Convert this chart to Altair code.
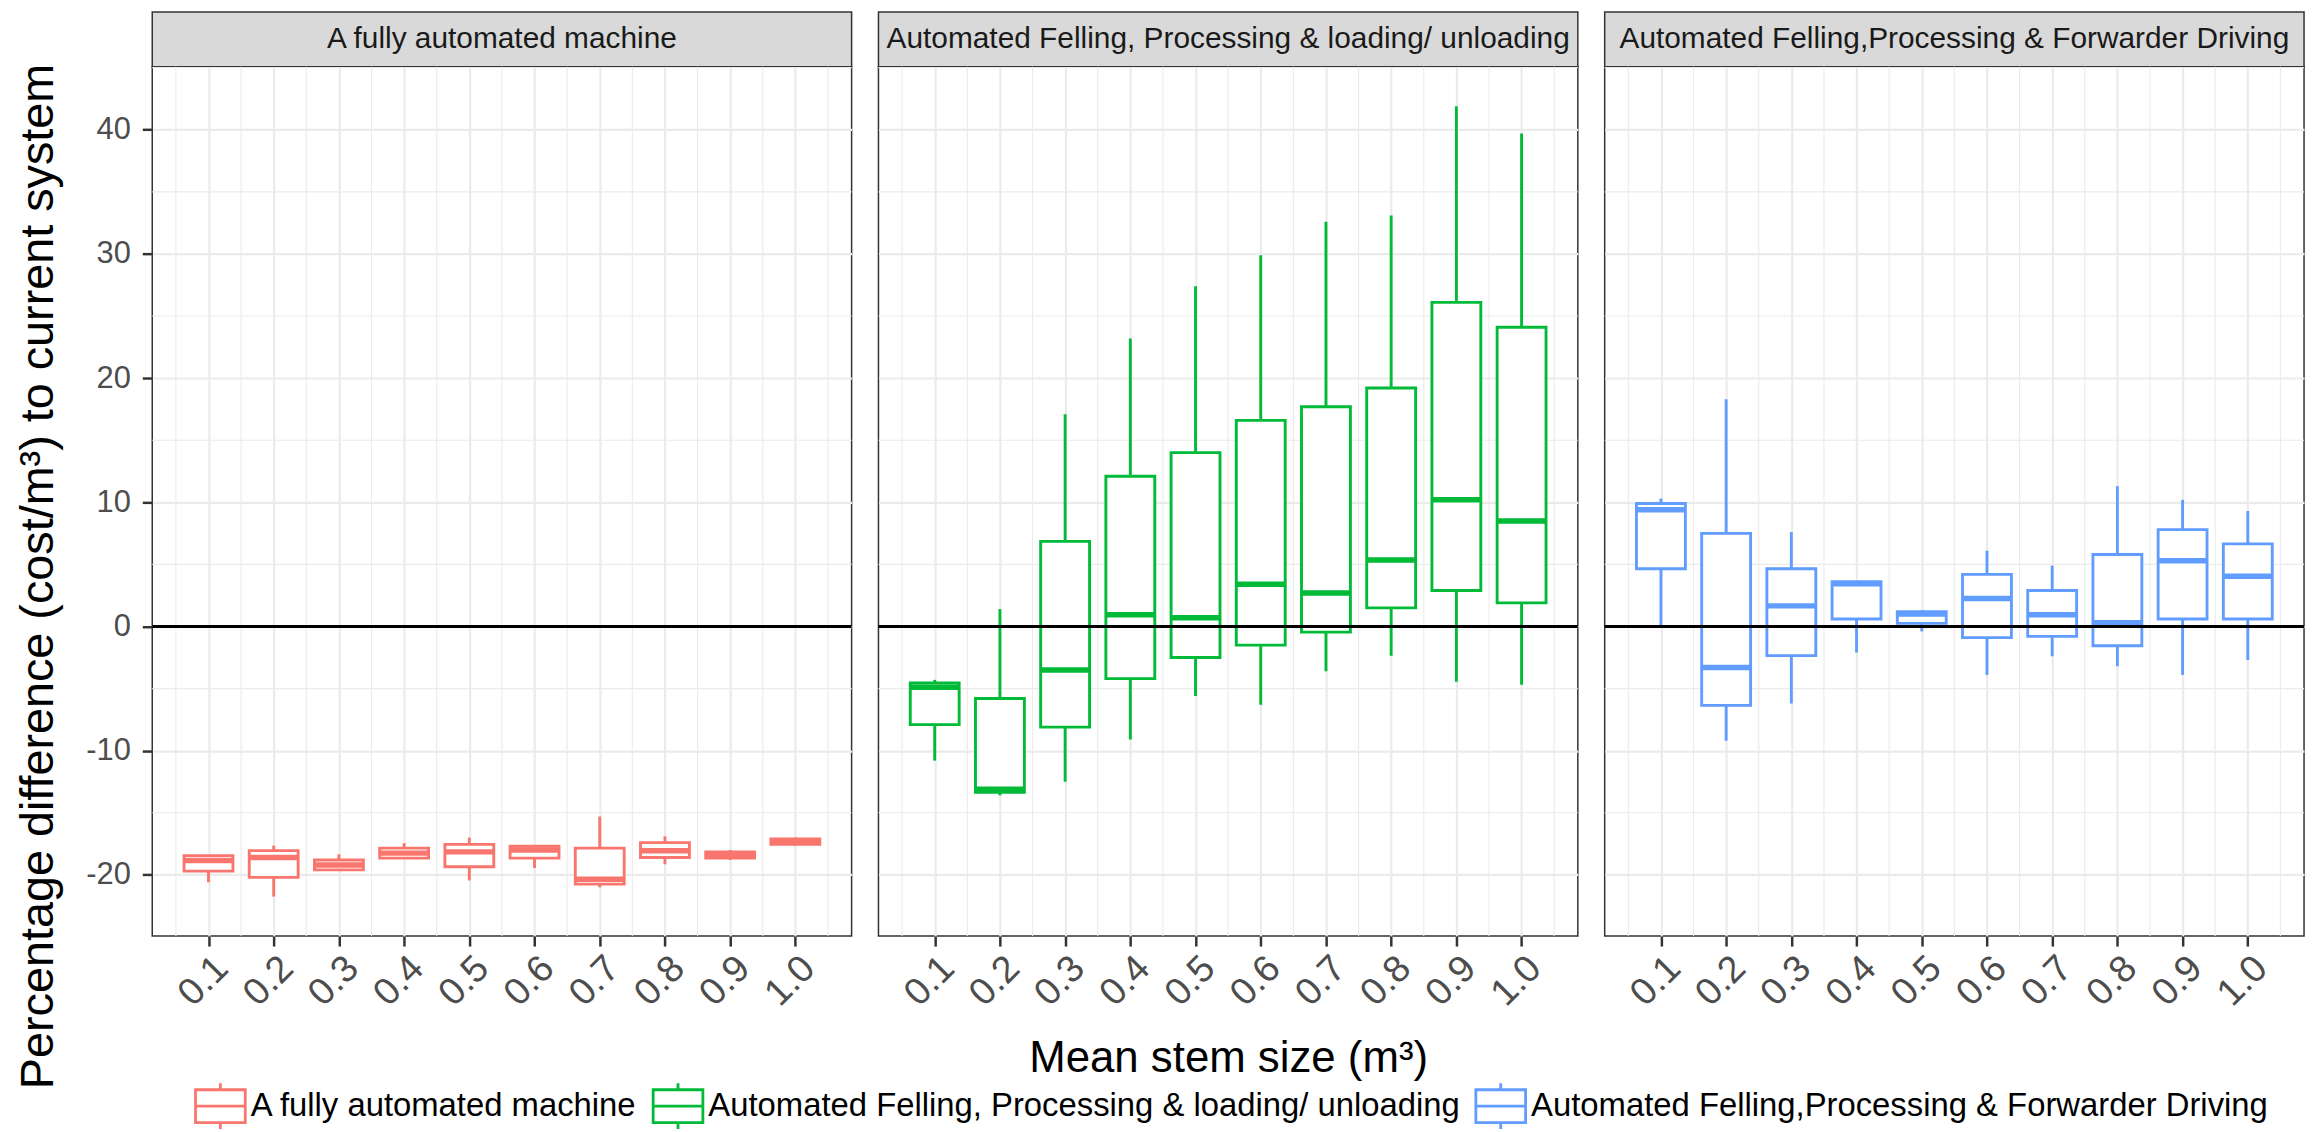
import altair as alt
import pandas as pd

# ---------------- data ----------------
stem_sizes = [0.1, 0.2, 0.3, 0.4, 0.5, 0.6, 0.7, 0.8, 0.9, 1.0]
systems = [
    "A fully automated machine",
    "Automated Felling, Processing & loading/ unloading",
    "Automated Felling,Processing & Forwarder Driving",
]
system_colors = ["#F8766D", "#00BA38", "#619CFF"]

# A fully automated machine
full_low = [-20.6, -21.75, -19.6, -18.65, -20.45, -19.45, -21.0, -19.15, -18.8, -17.65]
full_q1 = [-19.7, -20.2, -19.6, -18.65, -19.35, -18.65, -20.75, -18.6, -18.65, -17.55]
full_med = [-18.85, -18.6, -19.2, -18.25, -18.15, -18.0, -20.35, -18.05, -18.35, -17.3]
full_q3 = [-18.45, -18.05, -18.8, -17.85, -17.55, -17.7, -17.85, -17.4, -18.15, -17.1]
full_high = [-18.45, -17.65, -18.35, -17.45, -17.0, -17.65, -15.3, -16.9, -18.0, -17.0]

# Automated Felling, Processing & loading/ unloading
load_low = [-10.8, -13.6, -12.5, -9.1, -5.6, -6.3, -3.6, -2.35, -4.45, -4.7]
load_q1 = [-7.9, -13.35, -8.1, -4.2, -2.5, -1.5, -0.45, 1.5, 2.9, 1.9]
load_med = [-4.9, -13.1, -3.5, 0.95, 0.7, 3.4, 2.7, 5.35, 10.2, 8.5]
load_q3 = [-4.55, -5.8, 6.85, 12.1, 14.0, 16.6, 17.7, 19.2, 26.1, 24.1]
load_high = [-4.3, 1.4, 17.1, 23.2, 27.4, 29.9, 32.6, 33.1, 41.9, 39.7]

# Automated Felling,Processing & Forwarder Driving
fwd_low = [0.1, -9.2, -6.2, -2.1, -0.4, -3.9, -2.4, -3.2, -3.9, -2.7]
fwd_q1 = [4.65, -6.35, -2.35, 0.6, 0.25, -0.9, -0.8, -1.55, 0.6, 0.6]
fwd_med = [9.4, -3.3, 1.66, 3.45, 1.0, 2.25, 0.95, 0.3, 5.3, 4.05]
fwd_q3 = [9.9, 7.5, 4.65, 3.6, 1.2, 4.2, 2.9, 5.8, 7.8, 6.65]
fwd_high = [10.3, 18.3, 7.6, 3.6, 1.3, 6.1, 4.9, 11.3, 10.2, 9.3]

y_major = [-20, -10, 0, 10, 20, 30, 40]
y_minor = [-15, -5, 5, 15, 25, 35, 45]
x_minor = [0.05, 0.15, 0.25, 0.35, 0.45, 0.55, 0.65, 0.75, 0.85, 0.95, 1.05]
reference_line = [0]

x_title = "Mean stem size (m³)"
y_title = "Percentage difference (cost/m³) to current system"

# ---------------- table ----------------
series = [
    (full_low, full_q1, full_med, full_q3, full_high),
    (load_low, load_q1, load_med, load_q3, load_high),
    (fwd_low, fwd_q1, fwd_med, fwd_q3, fwd_high),
]
rows = []
for name, (lo, q1, md, q3, hi) in zip(systems, series):
    for s, a, b, c, d, e in zip(stem_sizes, lo, q1, md, q3, hi):
        rows.append(dict(system=name, stem=s, lo=a, q1=b, med=c, q3=d, hi=e))
df = pd.DataFrame(rows)

# ggplot-like domains (5% expansion)
half_box = 0.0375
x_lo, x_hi = min(stem_sizes) - half_box, max(stem_sizes) + half_box
x_pad = 0.05 * (x_hi - x_lo)
xdom = [x_lo - x_pad, x_hi + x_pad]
y_lo, y_hi = df["lo"].min(), df["hi"].max()
y_pad = 0.05 * (y_hi - y_lo)
ydom = [float(y_lo - y_pad), float(y_hi + y_pad)]

W = 703
PLOT_H = 874
STRIP_H = 55
GRID = "#EBEBEB"
DARK = "#333333"
TXT = "#4D4D4D"
FONT = "Liberation Sans"

box_path = "M-1,-0.66H1V0.66H-1Z M-1,0H1 M0,-0.66V-0.92 M0,0.66V0.92"
legend = alt.Legend(
    orient="none", legendX=42, legendY=1073, direction="horizontal",
    title=None, symbolType=box_path, symbolSize=2500, symbolStrokeWidth=2.8,
    symbolFillColor="white", labelFontSize=33, labelColor="black",
    labelLimit=1000, labelOffset=4, columnPadding=9, padding=0, labelFont=FONT,
)
stroke_scale = alt.Scale(domain=systems, range=system_colors)


def panel(i):
    d = df[df["system"] == systems[i]]
    xs = alt.Scale(domain=xdom, nice=False, zero=False)
    ys = alt.Scale(domain=ydom, nice=False, zero=False)
    stroke = alt.Stroke("system:N", scale=stroke_scale, legend=legend)

    xkw = dict(
        orient="bottom", values=stem_sizes, format=".1f", labelAngle=315,
        labelAlign="right", labelBaseline="top", labelPadding=3,
        labelFontSize=38, labelColor=TXT, labelFlush=False, labelOverlap=False,
        ticks=True, tickSize=10, tickWidth=2.5, tickColor=DARK,
        domain=False, grid=True, gridColor=GRID, gridWidth=2.2,
    )
    if i == 1:
        xkw.update(title=x_title, titleFontSize=44, titleFontWeight="normal",
                   titleColor="black", titleBaseline="alphabetic", titleY=136)
    else:
        xkw.update(title=None)
    xaxis = alt.Axis(**xkw)

    if i == 0:
        yaxis = alt.Axis(
            orient="left", values=y_major,
            labelExpr="datum.value < 0 ? '-' + abs(datum.value) : '' + datum.value",
            labelFontSize=31, labelColor=TXT, labelPadding=12, labelFlush=False,
            ticks=True, tickSize=10, tickWidth=2.5, tickColor=DARK,
            domain=False, grid=True, gridColor=GRID, gridWidth=2.2,
            title=y_title, titleFontSize=47, titleFontWeight="normal",
            titleColor="black", titleAngle=270, titleBaseline="alphabetic",
            titleAlign="center", titleX=-100, titleY=512,
        )
    else:
        yaxis = alt.Axis(
            orient="left", values=y_major, labels=False, ticks=False,
            domain=False, grid=True, gridColor=GRID, gridWidth=2.2, title=None,
        )

    base = alt.Chart(d).transform_calculate(
        xl=f"datum.stem - {half_box}", xr=f"datum.stem + {half_box}"
    )

    minor_v = alt.Chart(pd.DataFrame({"g": x_minor})).mark_rule(
        color=GRID, strokeWidth=1.1
    ).encode(x=alt.X("g:Q", scale=xs, axis=xaxis))
    minor_h = alt.Chart(pd.DataFrame({"g": y_minor})).mark_rule(
        color=GRID, strokeWidth=1.1
    ).encode(y=alt.Y("g:Q", scale=ys, axis=yaxis))

    whisk = base.mark_rule(strokeWidth=2.9).encode(
        x=alt.X("stem:Q", scale=xs, axis=xaxis),
        y=alt.Y("lo:Q", scale=ys, axis=yaxis),
        y2="hi:Q",
        stroke=stroke,
    )
    box = base.mark_rect(fill="white", strokeWidth=2.9).encode(
        x=alt.X("xl:Q", scale=xs, axis=xaxis),
        x2="xr:Q",
        y=alt.Y("q1:Q", scale=ys, axis=yaxis),
        y2="q3:Q",
        stroke=stroke,
    )
    median = base.mark_rule(strokeWidth=5.5).encode(
        x=alt.X("xl:Q", scale=xs, axis=xaxis),
        x2="xr:Q",
        y=alt.Y("med:Q", scale=ys, axis=yaxis),
        stroke=stroke,
    )
    zero = alt.Chart(pd.DataFrame({"ref": reference_line})).mark_rule(
        color="black", strokeWidth=3
    ).encode(y=alt.Y("ref:Q", scale=ys, axis=yaxis))

    return alt.layer(minor_v, minor_h, whisk, box, median, zero).properties(
        width=W, height=PLOT_H,
        view=alt.ViewBackground(fill="white", stroke=DARK, strokeWidth=1.5),
    )


def strip(i):
    return alt.Chart(pd.DataFrame({"system": [systems[i]]})).mark_text(
        fontSize=30, color="#1A1A1A", font=FONT, baseline="middle", align="center"
    ).encode(
        text="system:N", x=alt.value(W / 2), y=alt.value(27)
    ).properties(
        width=W, height=STRIP_H,
        view=alt.ViewBackground(fill="#D9D9D9", stroke=DARK, strokeWidth=1.5),
    )


cols = [alt.vconcat(strip(i), panel(i), spacing=0, bounds="flush") for i in range(3)]

chart = alt.hconcat(*cols, spacing=21).resolve_scale(
    stroke="shared"
).resolve_legend(stroke="shared").properties(
    padding={"left": 6, "top": 0, "right": 5, "bottom": 0},
    background="white",
).configure(font=FONT).configure_view(
    stroke=DARK, strokeWidth=1.5
).configure_axis(
    tickSize=10, tickWidth=2.5, tickColor=DARK, tickOpacity=1
).configure_axisX(
    labelPadding=3
).configure_axisY(
    labelPadding=12
)

chart.save("out.html", embed_options={"renderer": "svg", "actions": False})
